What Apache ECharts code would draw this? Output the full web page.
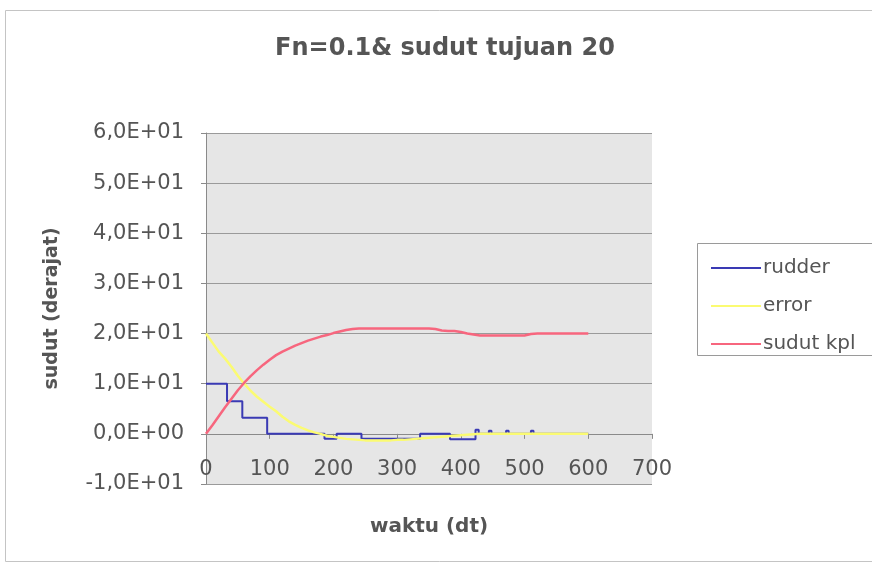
<!DOCTYPE html>
<html>
<head>
<meta charset="utf-8">
<script src="https://cdn.jsdelivr.net/npm/echarts@6/dist/echarts.min.js"></script>
<style>
  html, body { margin: 0; padding: 0; background: #ffffff; }
  #chart { width: 872px; height: 568px; }
</style>
</head>
<body>
<div id="chart"></div>
<script>
// Time samples (dt) for the heading and error traces
const waktu = [0, 10, 20, 30, 40, 50, 60, 70, 80, 90, 100, 110, 120, 130, 140, 150, 160, 170, 180, 190,
  200, 210, 220, 230, 240, 250, 260, 270, 280, 290, 300, 310, 320, 330, 340, 350, 360, 370, 380, 390,
  400, 410, 420, 430, 440, 450, 460, 470, 480, 490, 500, 510, 520, 530, 540, 550, 560, 570, 580, 590, 600];

// Ship heading (derajat)
const sudutKpl = [0, 1.7, 3.5, 5.3, 7.0, 8.7, 10.2, 11.5, 12.7, 13.8, 14.8, 15.7, 16.4, 17.0, 17.6, 18.1, 18.6, 19.0, 19.4, 19.7,
  20.1, 20.4, 20.7, 20.9, 21.0, 21.0, 21.0, 21.0, 21.0, 21.0, 21.0, 21.0, 21.0, 21.0, 21.0, 21.0, 20.9, 20.6, 20.5, 20.5,
  20.3, 20.0, 19.8, 19.6, 19.6, 19.6, 19.6, 19.6, 19.6, 19.6, 19.6, 19.9, 20.0, 20.0, 20.0, 20.0, 20.0, 20.0, 20.0, 20.0, 20.0];

// Heading error (derajat)
const errorVal = [20, 18.2, 16.4, 15.0, 13.4, 11.6, 10.0, 8.6, 7.4, 6.4, 5.4, 4.5, 3.4, 2.5, 1.8, 1.2, 0.7, 0.3, 0.0, -0.4,
  -0.6, -0.8, -1.0, -1.1, -1.2, -1.3, -1.3, -1.3, -1.3, -1.3, -1.2, -1.2, -1.1, -1.0, -0.9, -0.8, -0.7, -0.6, -0.5, -0.4,
  -0.3, -0.2, -0.1, 0, 0, 0, 0, 0, 0, 0, 0, 0, 0, 0, 0, 0, 0, 0, 0, 0, 0];

// Rudder command: value holds from each time until the next one
const rudderWaktu = [0, 33, 57, 96, 186, 205, 244, 336, 383, 423, 428, 444, 448, 471, 475, 510, 514, 600];
const rudderVal   = [10, 6.5, 3.2, 0, -1, 0, -1, 0, -1.1, 0.8, 0, 0.6, 0, 0.6, 0, 0.6, 0, 0];

const seriesNames = ['rudder', 'error', 'sudut kpl'];
const yTicks = [-10, 0, 10, 20, 30, 40, 50, 60];
const xTicks = [0, 100, 200, 300, 400, 500, 600, 700];

const pairs = (xs, ys) => xs.map((x, i) => [x, ys[i]]);

// Excel-style scientific label, e.g. 2,0E+01
function sci(v) {
  if (v === 0) return '0,0E+00';
  const sign = v < 0 ? '-' : '';
  const a = Math.abs(v);
  const e = Math.floor(Math.log10(a));
  const m = (a / Math.pow(10, e)).toFixed(1).replace('.', ',');
  return sign + m + 'E' + (e >= 0 ? '+' : '-') + String(Math.abs(e)).padStart(2, '0');
}

const font = '"DejaVu Sans", Verdana, sans-serif';
const textGrey = '#555555';

const chart = echarts.init(document.getElementById('chart'), null, { renderer: 'canvas' });
chart.setOption({
  backgroundColor: '#ffffff',
  animation: false,
  title: {
    text: 'Fn=0.1& sudut tujuan 20',
    left: 440, top: 32, textAlign: 'center',
    textStyle: { fontFamily: font, fontSize: 24, fontWeight: 'bold', color: textGrey }
  },
  graphic: [
    { type: 'rect', shape: { x: 5.5, y: 10.5, width: 900, height: 551 },
      style: { fill: 'none', stroke: '#c4c4c4', lineWidth: 1 }, z: -10 },
    { type: 'rect', shape: { x: 697.5, y: 243.5, width: 200, height: 112 },
      style: { fill: '#ffffff', stroke: '#9a9a9a', lineWidth: 1 }, z: 1 }
  ],
  legend: {
    data: seriesNames,
    orient: 'vertical',
    left: 706, top: 253,
    itemWidth: 50, itemHeight: 2, itemGap: 18,
    icon: 'rect',
    textStyle: { fontFamily: font, fontSize: 20, color: textGrey, padding: [0, 0, 0, -3] },
    z: 5
  },
  grid: { left: 206, top: 133, width: 446, height: 351, show: true, outerBoundsMode: 'none',
          containLabel: false, backgroundColor: '#e6e6e6', borderWidth: 0 },
  xAxis: {
    type: 'value', min: xTicks[0], max: xTicks[xTicks.length - 1], interval: 100,
    name: 'waktu (dt)', nameLocation: 'middle', nameGap: 33, nameMoveOverlap: false,
    nameTextStyle: { fontFamily: font, fontSize: 20, fontWeight: 'bold', color: textGrey },
    axisLine: { onZero: true, lineStyle: { color: '#8a8a8a', width: 1 } },
    axisTick: { show: true, length: 5, inside: false, lineStyle: { color: '#8a8a8a' } },
    axisLabel: { fontFamily: font, fontSize: 21, color: textGrey, margin: -25 },
    splitLine: { show: false }
  },
  yAxis: {
    type: 'value', min: yTicks[0], max: yTicks[yTicks.length - 1], interval: 10,
    name: 'sudut (derajat)', nameLocation: 'middle', nameGap: 144, nameRotate: 90,
    nameTextStyle: { fontFamily: font, fontSize: 19, fontWeight: 'bold', color: textGrey },
    axisLine: { show: true, onZero: false, lineStyle: { color: '#8a8a8a', width: 1 } },
    axisTick: { show: true, length: 5, lineStyle: { color: '#8a8a8a' } },
    axisLabel: { fontFamily: font, fontSize: 21, color: textGrey, margin: 22, formatter: sci },
    splitLine: { show: true, lineStyle: { color: '#9a9a9a', width: 1 } }
  },
  series: [
    { name: seriesNames[0], type: 'line', step: 'end', data: pairs(rudderWaktu, rudderVal),
      showSymbol: false, lineStyle: { color: '#3a3ab4', width: 2 }, itemStyle: { color: '#3a3ab4' }, z: 3 },
    { name: seriesNames[1], type: 'line', data: pairs(waktu, errorVal),
      showSymbol: false, lineStyle: { color: '#fbfb72', width: 2.5 }, itemStyle: { color: '#fbfb72' }, z: 4 },
    { name: seriesNames[2], type: 'line', data: pairs(waktu, sudutKpl),
      showSymbol: false, lineStyle: { color: '#f7667e', width: 2.5 }, itemStyle: { color: '#f7667e' }, z: 5 }
  ]
});
</script>
</body>
</html>
